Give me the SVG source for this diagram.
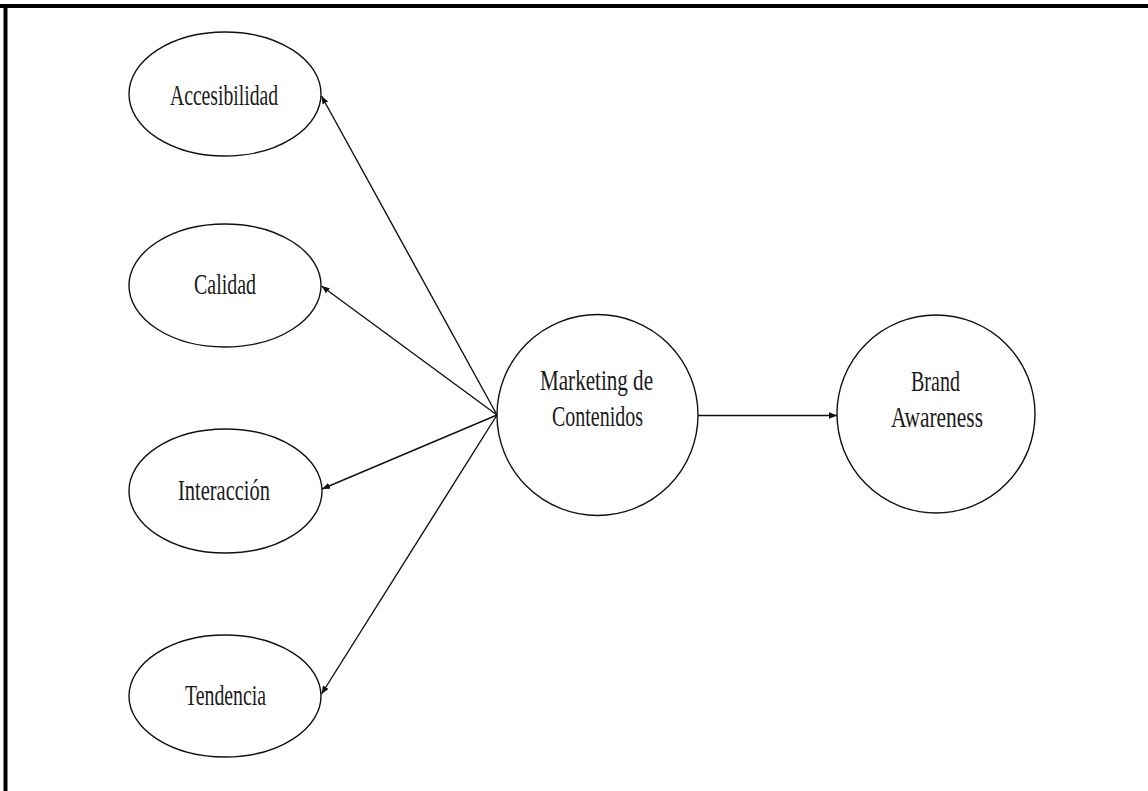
<svg xmlns="http://www.w3.org/2000/svg" width="1148" height="791" viewBox="0 0 1148 791">
  <style>
    .node { fill: #fff; stroke: #111; stroke-width: 1.4; }
    .label { font-family: "Liberation Serif", "Times New Roman", serif; font-size: 29px; fill: #1a1a1a; text-anchor: middle; }
    .edge { stroke: #111; stroke-width: 1.4; fill: none; marker-end: url(#arrow); }
    .frame { stroke: #000; stroke-width: 4; fill: none; }
  </style>
  <defs>
    <marker id="arrow" markerUnits="userSpaceOnUse" markerWidth="10" markerHeight="8" refX="8" refY="4" orient="auto">
      <path d="M0,0.8 L8,4 L0,7.2 Z" fill="#111"/>
    </marker>
  </defs>
  <rect width="1148" height="791" fill="#fff"/>
  <!-- outer frame: top and left rules -->
  <g id="frame">
    <line class="frame" x1="0" y1="6" x2="1148" y2="6"/>
    <line class="frame" x1="5.5" y1="4" x2="5.5" y2="791"/>
  </g>
  <g id="connectors">
    <line class="edge" x1="497" y1="415" x2="321.5" y2="96"/>
    <line class="edge" x1="497" y1="415" x2="321.5" y2="286"/>
    <line class="edge" x1="497" y1="415" x2="322" y2="489"/>
    <line class="edge" x1="497" y1="415" x2="321.5" y2="694"/>
    <line class="edge" x1="698" y1="415.5" x2="837" y2="415.5"/>
  </g>
  <g id="accesibilidad">
    <ellipse class="node" cx="225" cy="94" rx="96" ry="62"/>
    <text class="label" x="224" y="105" textLength="108" lengthAdjust="spacingAndGlyphs">Accesibilidad</text>
  </g>
  <g id="calidad">
    <ellipse class="node" cx="225" cy="285.5" rx="96" ry="61.5"/>
    <text class="label" x="225" y="294" textLength="62" lengthAdjust="spacingAndGlyphs">Calidad</text>
  </g>
  <g id="interaccion">
    <ellipse class="node" cx="225.5" cy="491" rx="96.5" ry="62"/>
    <text class="label" x="224" y="500" textLength="92" lengthAdjust="spacingAndGlyphs">Interacción</text>
  </g>
  <g id="tendencia">
    <ellipse class="node" cx="225" cy="696" rx="96" ry="61"/>
    <text class="label" x="225.5" y="705" textLength="81" lengthAdjust="spacingAndGlyphs">Tendencia</text>
  </g>
  <g id="marketing">
    <circle class="node" cx="597.5" cy="415" r="100.5"/>
    <text class="label" x="596.5" y="390" textLength="113" lengthAdjust="spacingAndGlyphs">Marketing de</text>
    <text class="label" x="597.5" y="426" textLength="91" lengthAdjust="spacingAndGlyphs">Contenidos</text>
  </g>
  <g id="brand">
    <circle class="node" cx="936" cy="414" r="99"/>
    <text class="label" x="935.5" y="391" textLength="49" lengthAdjust="spacingAndGlyphs">Brand</text>
    <text class="label" x="937" y="427" textLength="92" lengthAdjust="spacingAndGlyphs">Awareness</text>
  </g>
</svg>
